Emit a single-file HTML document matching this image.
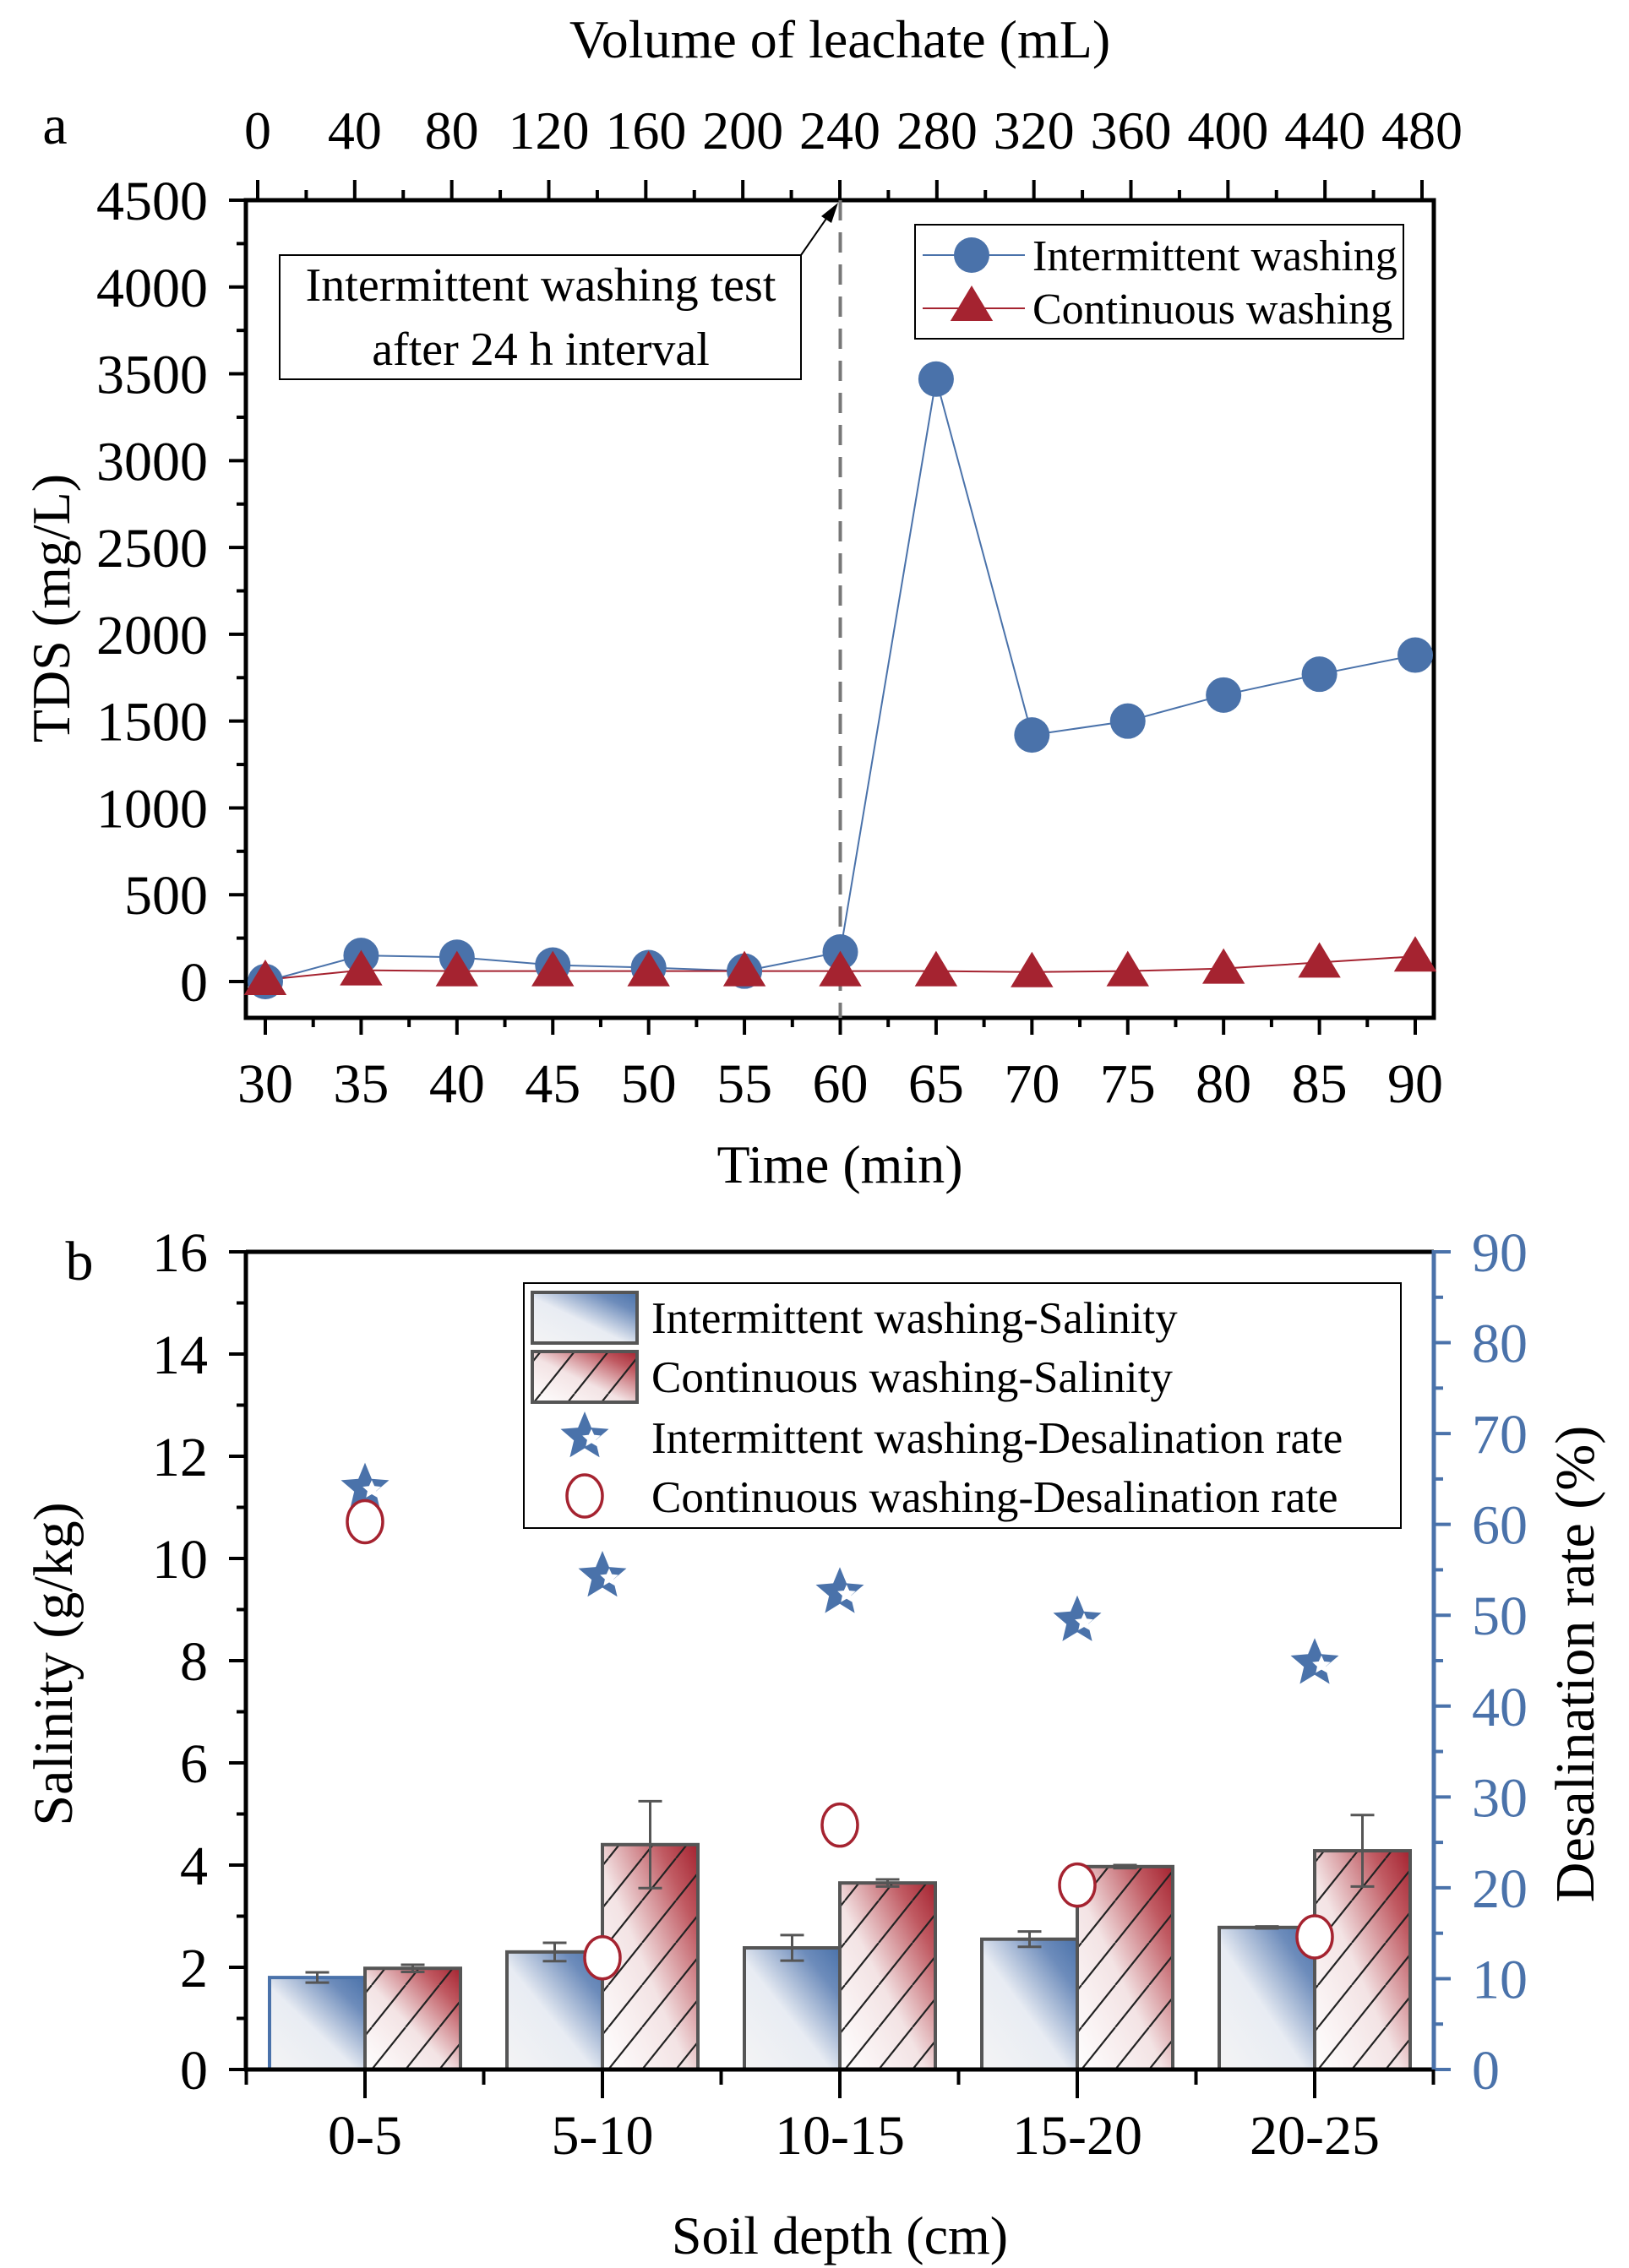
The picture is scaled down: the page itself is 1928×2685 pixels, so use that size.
<!DOCTYPE html>
<html><head><meta charset="utf-8"><style>
html,body{margin:0;padding:0;background:#fff}
svg{display:block;font-family:"Liberation Serif",serif}
</style></head><body>
<svg id="fig" width="1928" height="2685" viewBox="0 0 1928 2685" xmlns="http://www.w3.org/2000/svg">
<defs>
<linearGradient id="gBlue" x1="0" y1="1" x2="1" y2="0">
<stop offset="0" stop-color="#f4f4f4"/><stop offset="0.45" stop-color="#e8ecf3"/><stop offset="0.8" stop-color="#6d8cbb"/><stop offset="1" stop-color="#4a72aa"/></linearGradient>
<linearGradient id="gRed" x1="0" y1="1" x2="1" y2="0">
<stop offset="0" stop-color="#ffffff"/><stop offset="0.45" stop-color="#f3e3e4"/><stop offset="0.8" stop-color="#c05a62"/><stop offset="1" stop-color="#a52330"/></linearGradient>
<pattern id="hatch" patternUnits="userSpaceOnUse" width="40" height="50">
<path d="M-40,50 L0,0 M0,50 L40,0 M40,50 L80,0" stroke="#222" stroke-width="2.2"/></pattern>
</defs>
<g id="a"></g>
<g id="b"></g>
</svg>
<script>
// ---- Chart a data ----
const timeCats = [30,35,40,45,50,55,60,65,70,75,80,85,90];
const intermittentTDS = [0,150,140,95,80,60,170,3470,1420,1500,1650,1770,1880];
const continuousTDS = [10,65,60,60,60,60,60,60,55,60,75,110,145];
const tdsTicks = [0,500,1000,1500,2000,2500,3000,3500,4000,4500];
const volTicks = [0,40,80,120,160,200,240,280,320,360,400,440,480];
// ---- Chart b data ----
const depthCats = ['0-5','5-10','10-15','15-20','20-25'];
const intSalinity = [1.8,2.3,2.38,2.55,2.78];
const intSalErr = [0.1,0.18,0.25,0.15,0.02];
const contSalinity = [1.98,4.4,3.65,3.97,4.28];
const contSalErr = [0.07,0.85,0.07,0.03,0.7];
const intDesal = [64,54.3,52.5,49.4,44.7];
const contDesal = [60.3,12.3,26.9,20.3,14.6];
const salTicks = [0,2,4,6,8,10,12,14,16];
const desalTicks = [0,10,20,30,40,50,60,70,80,90];

const NS='http://www.w3.org/2000/svg';
function mk(parent,tag,attrs,text){const e=document.createElementNS(NS,tag);for(const k in attrs)e.setAttribute(k,attrs[k]);if(text!==undefined)e.textContent=text;parent.appendChild(e);return e;}
const BLUE='#4a72aa', RED='#a52330';

// ================= Chart a =================
const A=document.getElementById('a');
const aL=291,aR=1697,aT=237,aB=1205;
const ax=t=>314+(t-30)*(1675-314)/60;
const ay=v=>1162-v*(1162-237)/4500;
const axTop=v=>305+v*(1683-305)/480;
let e;
e=mk(A,'rect',{x:aL,y:aT,width:aR-aL,height:aB-aT,fill:'none',stroke:'#000','stroke-width':5});

for(let v=0;v<=4500;v+=250){const y=ay(v);const maj=v%500===0;
 e=mk(A,'line',{x1:aL,x2:aL-(maj?20:11),y1:y,y2:y,stroke:'#000','stroke-width':4});
 }
tdsTicks.forEach(v=>{e=mk(A,'text',{x:246,y:ay(v)+23,'text-anchor':'end','font-size':66},v);
 });
for(let t=30;t<=90;t+=2.5){const x=ax(t);const maj=t%5===0;
 e=mk(A,'line',{x1:x,x2:x,y1:aB,y2:aB+(maj?20:11),stroke:'#000','stroke-width':4});
 }
timeCats.forEach(t=>{e=mk(A,'text',{x:ax(t),y:1305,'text-anchor':'middle','font-size':66},t);
 });
for(let v=0;v<=480;v+=20){const x=axTop(v);const maj=v%40===0;
 e=mk(A,'line',{x1:x,x2:x,y1:aT,y2:aT-(maj?24:12),stroke:'#000','stroke-width':4});
 }
volTicks.forEach(v=>{e=mk(A,'text',{x:axTop(v),y:176,'text-anchor':'middle','font-size':64},v);
 });
e=mk(A,'text',{x:994,y:68,'text-anchor':'middle','font-size':64},'Volume of leachate (mL)');

e=mk(A,'text',{x:994,y:1400,'text-anchor':'middle','font-size':64},'Time (min)');

e=mk(A,'text',{x:82,y:720,'text-anchor':'middle','font-size':64,transform:'rotate(-90 82 720)'},'TDS (mg/L)');

e=mk(A,'text',{x:65,y:170,'text-anchor':'middle','font-size':66},'a');

e=mk(A,'line',{x1:ax(60),x2:ax(60),y1:aT,y2:aB,stroke:'#777','stroke-width':4,'stroke-dasharray':'24 14'});

e=mk(A,'rect',{x:331,y:302,width:617,height:147,fill:'#fff',stroke:'#000','stroke-width':2});

e=mk(A,'text',{x:640,y:356,'text-anchor':'middle','font-size':56},'Intermittent washing test');

e=mk(A,'text',{x:640,y:432,'text-anchor':'middle','font-size':56},'after 24 h interval');

e=mk(A,'line',{x1:948,y1:302,x2:982,y2:253,stroke:'#000','stroke-width':2});

e=mk(A,'polygon',{points:'992,240 972,256 984,264',fill:'#000'});

function tri(g,x,y,s){return mk(g,'polygon',{points:`${x},${y-s} ${x-s*1.05},${y+s*0.75} ${x+s*1.05},${y+s*0.75}`,fill:RED});}
e=mk(A,'polyline',{points:timeCats.map((t,i)=>ax(t)+','+ay(intermittentTDS[i])).join(' '),fill:'none',stroke:BLUE,'stroke-width':2});

e=mk(A,'polyline',{points:timeCats.map((t,i)=>ax(t)+','+ay(continuousTDS[i])).join(' '),fill:'none',stroke:RED,'stroke-width':2});

timeCats.forEach((t,i)=>{e=mk(A,'circle',{cx:ax(t),cy:ay(intermittentTDS[i]),r:21,fill:BLUE});
 });
timeCats.forEach((t,i)=>{e=tri(A,ax(t),ay(continuousTDS[i]),24);
 });
e=mk(A,'rect',{x:1083,y:266,width:578,height:135,fill:'#fff',stroke:'#000','stroke-width':2});

e=mk(A,'line',{x1:1092,x2:1213,y1:302,y2:302,stroke:BLUE,'stroke-width':2});

e=mk(A,'circle',{cx:1150,cy:302,r:21,fill:BLUE});

e=mk(A,'text',{x:1222,y:320,'font-size':52},'Intermittent washing');

e=mk(A,'line',{x1:1092,x2:1213,y1:365,y2:365,stroke:RED,'stroke-width':2});

e=tri(A,1150,362,24);

e=mk(A,'text',{x:1222,y:383,'font-size':52},'Continuous washing');


// ================= Chart b =================
const B=document.getElementById('b');
const bL=291,bR=1697,bT=1482,bB=2450;
const by=v=>bB-v*(bB-bT)/16;
const byR=v=>bB-v*(bB-bT)/90;
const bx=i=>432+i*281;
const bw=113;
depthCats.forEach((c,i)=>{
 const x0=bx(i)-bw, y=by(intSalinity[i]);
 e=mk(B,'rect',{x:x0,y:y,width:bw,height:bB-y,fill:'url(#gBlue)',stroke:i===0?BLUE:'#555','stroke-width':4});
 
 const y2=by(contSalinity[i]);
 e=mk(B,'rect',{x:bx(i),y:y2,width:bw,height:bB-y2,fill:'url(#gRed)'});
 
 e=mk(B,'rect',{x:bx(i),y:y2,width:bw,height:bB-y2,fill:'url(#hatch)',stroke:'#555','stroke-width':4});
 
 [[bx(i)-bw/2,intSalinity[i],intSalErr[i]],[bx(i)+bw/2,contSalinity[i],contSalErr[i]]].forEach(([cx,v,er])=>{
  const g=mk(B,'g',{stroke:'#555','stroke-width':3});
  
  mk(g,'line',{x1:cx,x2:cx,y1:by(v+er),y2:by(v-er)});
  mk(g,'line',{x1:cx-14,x2:cx+14,y1:by(v+er),y2:by(v+er)});
  mk(g,'line',{x1:cx-14,x2:cx+14,y1:by(v-er),y2:by(v-er)});
 });
});
e=mk(B,'line',{x1:bL,x2:bR,y1:bT,y2:bT,stroke:'#000','stroke-width':5});

e=mk(B,'line',{x1:bL,x2:bL,y1:bT-2,y2:bB,stroke:'#000','stroke-width':5});

e=mk(B,'line',{x1:bL-2,x2:bR,y1:bB,y2:bB,stroke:'#000','stroke-width':5});

e=mk(B,'line',{x1:bR,x2:bR,y1:bT-2,y2:bB+2,stroke:BLUE,'stroke-width':5});

for(let v=0;v<=16;v+=1){const maj=v%2===0;
 e=mk(B,'line',{x1:bL,x2:bL-(maj?20:11),y1:by(v),y2:by(v),stroke:'#000','stroke-width':4});
 }
salTicks.forEach(v=>{e=mk(B,'text',{x:246,y:by(v)+23,'text-anchor':'end','font-size':66},v);
 });
for(let v=0;v<=90;v+=5){const maj=v%10===0;
 e=mk(B,'line',{x1:bR,x2:bR+(maj?20:11),y1:byR(v),y2:byR(v),stroke:BLUE,'stroke-width':4});
 }
desalTicks.forEach(v=>{e=mk(B,'text',{x:1742,y:byR(v)+23,'font-size':66,fill:BLUE},v);
 });
depthCats.forEach((c,i)=>{
 e=mk(B,'line',{x1:bx(i),x2:bx(i),y1:bB,y2:bB+34,stroke:'#000','stroke-width':4});
 
 e=mk(B,'text',{x:bx(i),y:2550,'text-anchor':'middle','font-size':66},c);
 });
for(let i=0;i<=5;i++){const x=bx(i)-140.5;
 e=mk(B,'line',{x1:x,x2:x,y1:bB,y2:bB+18,stroke:'#000','stroke-width':4});
 }
e=mk(B,'text',{x:994,y:2668,'text-anchor':'middle','font-size':64},'Soil depth (cm)');

e=mk(B,'text',{x:85,y:1970,'text-anchor':'middle','font-size':66,transform:'rotate(-90 85 1970)'},'Salinity (g/kg)');

e=mk(B,'text',{x:1886,y:1970,'text-anchor':'middle','font-size':66,transform:'rotate(-90 1886 1970)'},'Desalination rate (%)');

e=mk(B,'text',{x:94,y:1515,'text-anchor':'middle','font-size':66},'b');

function star(g,cx,cy,R){let p=[];for(let k=0;k<10;k++){const r=k%2?R*0.45:R;const a=-Math.PI/2+k*Math.PI/5;p.push((cx+r*Math.cos(a)).toFixed(1)+','+(cy+r*Math.sin(a)).toFixed(1));}
 const s=mk(g,'g',{});mk(s,'polygon',{points:p.join(' '),fill:BLUE});
 let p2=[];for(let k=0;k<10;k++){const r=k%2?R*0.18:R*0.38;const a=-Math.PI/2+k*Math.PI/5;p2.push((cx+8+r*Math.cos(a)).toFixed(1)+','+(cy+2+r*Math.sin(a)).toFixed(1));}
 mk(s,'polygon',{points:p2.join(' '),fill:'#fff'});return s;}
intDesal.forEach((v,i)=>{e=star(B,bx(i),byR(v),30);
 });
contDesal.forEach((v,i)=>{e=mk(B,'ellipse',{cx:bx(i),cy:byR(v),rx:21,ry:25,fill:'#fff',stroke:RED,'stroke-width':3.5});
 });
e=mk(B,'rect',{x:620,y:1519,width:1038,height:290,fill:'#fff',stroke:'#000','stroke-width':2});

e=mk(B,'rect',{x:630,y:1530,width:124,height:60,fill:'url(#gBlue)',stroke:'#555','stroke-width':4});

e=mk(B,'rect',{x:630,y:1600,width:124,height:60,fill:'url(#gRed)'});

e=mk(B,'rect',{x:630,y:1600,width:124,height:60,fill:'url(#hatch)',stroke:'#555','stroke-width':4});

e=star(B,692,1701,30);

e=mk(B,'ellipse',{cx:692,cy:1771,rx:21,ry:25,fill:'#fff',stroke:RED,'stroke-width':3.5});

[['Intermittent washing-Salinity',1578],['Continuous washing-Salinity',1648],['Intermittent washing-Desalination rate',1720],['Continuous washing-Desalination rate',1790]].forEach(([t,y])=>{
 e=mk(B,'text',{x:771,y:y,'font-size':53},t);
 });
</script>
</body></html>
